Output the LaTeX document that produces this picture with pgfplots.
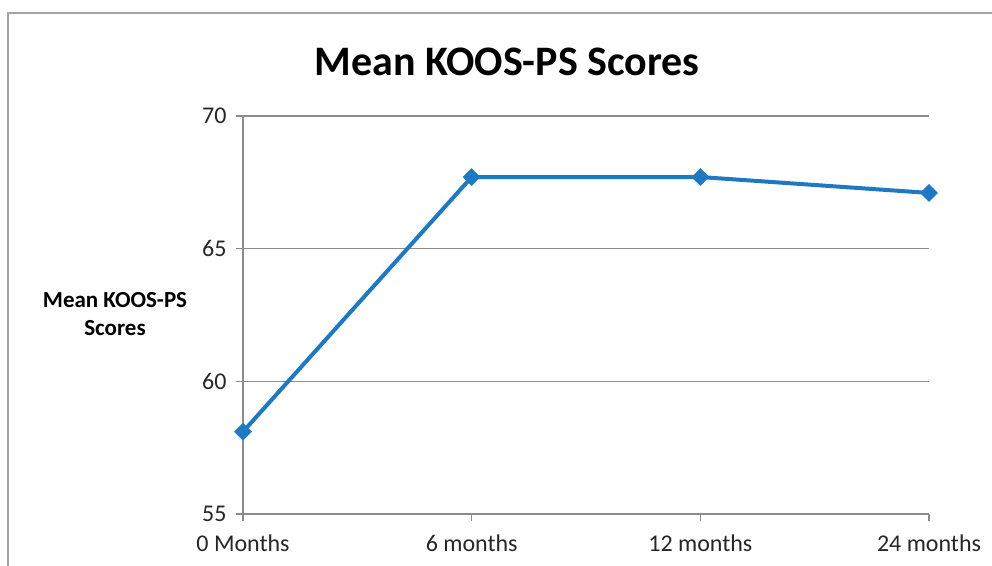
\documentclass[border=0pt]{standalone}
\usepackage{pgfplots}
\pgfplotsset{compat=1.18}
\usepackage{fontspec}
\setmainfont{Carlito}
\definecolor{lineblue}{RGB}{31,120,194}
\definecolor{axgray}{RGB}{140,140,140}
\begin{document}
\begin{tikzpicture}[x=1pt,y=1pt]
\useasboundingbox (0,0) rectangle (992,565);
\begin{scope}
\clip (0,0) rectangle (992,565);
\draw[color=axgray!80, line width=2.2pt] (8,-20) -- (8,552) -- (1010,552);
\end{scope}
\node[font=\bfseries\fontsize{42}{48}\selectfont] at (507,503) {Mean KOOS-PS Scores};
\node[font=\bfseries\fontsize{23}{28}\selectfont, align=center] at (115,251) {Mean KOOS-PS\\Scores};
\begin{axis}[
  at={(243pt,51pt)}, anchor=origin,
  scale only axis, width=686pt, height=398pt,
  xmin=0, xmax=3, ymin=55, ymax=70,
  xtick={0,1,2,3},
  xticklabels={0 Months, 6 months, 12 months, 24 months},
  ytick={55,60,65,70},
  ymajorgrids,
  grid style={axgray, line width=1.2pt},
  axis x line*=bottom, axis y line*=left,
  axis line style={axgray, line width=1.2pt, -},
  tick style={axgray, line width=1.2pt},
  major tick length=7pt,
  tick align=outside,
  ticklabel style={font=\fontsize{24}{28}\selectfont, text=black!85},
  /pgf/number format/assume math mode=true,
  xticklabel style={yshift=-10pt},
  yticklabel style={xshift=-6pt},
  clip=false,
]
\addplot[color=lineblue, line width=4pt, mark=square*, mark size=6pt, mark options={fill=lineblue, line width=0.5pt, rotate=45}]
  coordinates {(0,58.1) (1,67.7) (2,67.7) (3,67.1)};
\end{axis}
\end{tikzpicture}
\end{document}
